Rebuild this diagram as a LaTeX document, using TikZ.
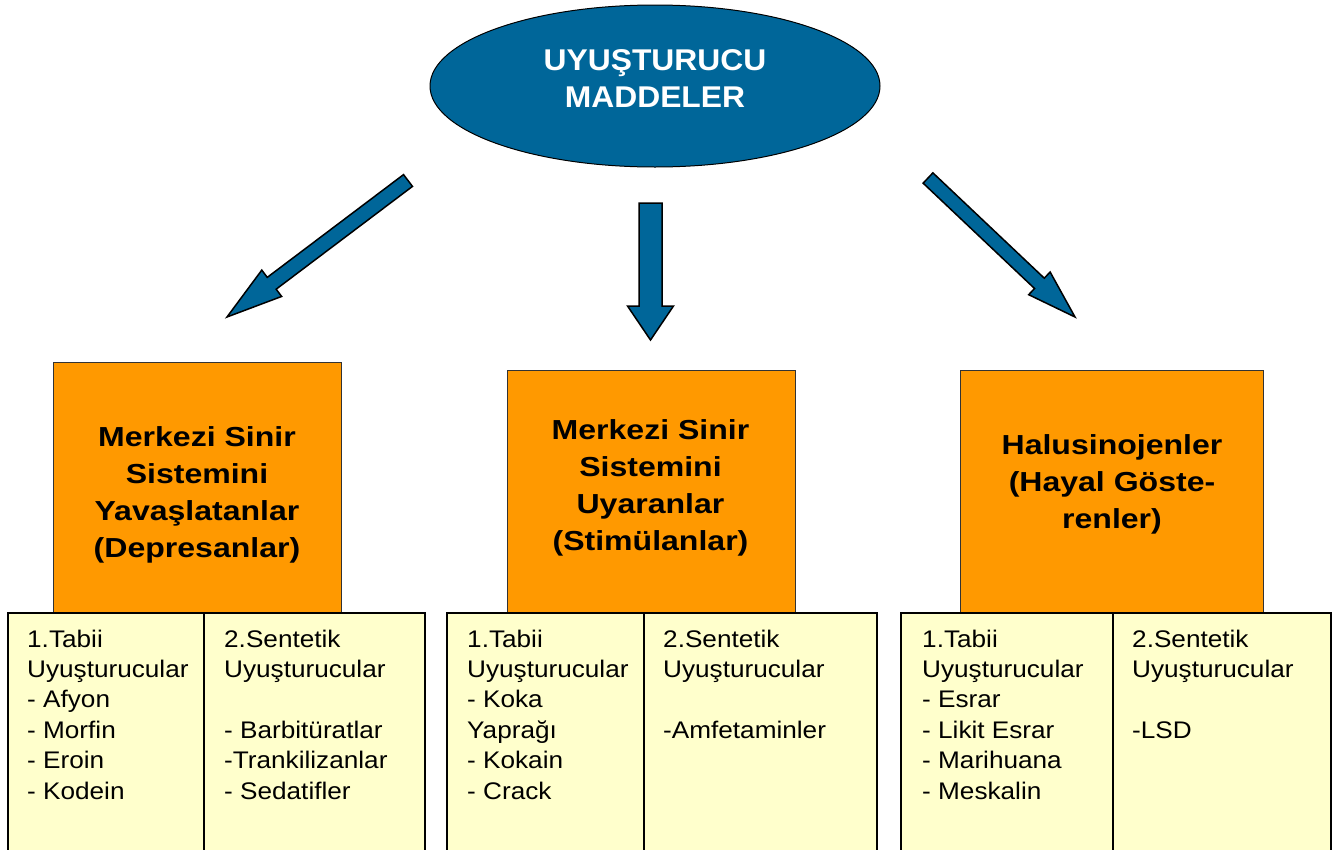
\documentclass[tikz,border=0pt]{standalone}
\usepackage{fontspec}
\setmainfont{Liberation Sans}
\newfontfamily\itemfont[FakeStretch=1.09]{Liberation Sans}
\newfontfamily\headfont[FakeStretch=1.165]{Liberation Sans}
\newfontfamily\titlefont[FakeStretch=1.06]{Liberation Sans}
\usetikzlibrary{calc,shapes.geometric}
\definecolor{ublue}{RGB}{0,102,153}
\definecolor{uorange}{RGB}{255,153,0}
\definecolor{uyellow}{RGB}{255,255,204}
\newcommand\blockarr[5]{%
  \coordinate (neck) at ($(#2)!#5!(#1)$);
  \draw[bigarrow] ($(#1)!#3!90:(#2)$) -- ($(neck)!#3!90:(#2)$) -- ($(neck)!#4!90:(#2)$) -- (#2)
    -- ($(neck)!#4!-90:(#2)$) -- ($(neck)!#3!-90:(#2)$) -- ($(#1)!#3!-90:(#2)$) -- cycle;
}
\begin{document}
\begin{tikzpicture}[x=1pt,y=-1pt,
  bigarrow/.style={fill=ublue, draw=black, line width=1.5pt, line join=miter},
  oval/.style={ellipse, fill=ublue, draw=black, line width=1pt, minimum width=450pt, minimum height=162pt, inner sep=0},
  obox/.style={draw=black!80, fill=uorange, line width=1pt, anchor=north west, inner sep=0},
  ycol/.style={draw=black, fill=uyellow, line width=2pt, anchor=north west, inner sep=0, minimum height=270pt},
  title/.style={align=center, text=white, font=\titlefont\bfseries\fontsize{30}{37.3}\selectfont, anchor=base, inner sep=0},
  head/.style={align=center, font=\headfont\bfseries\fontsize{27.5}{36.8}\selectfont, anchor=base, inner sep=0},
  item/.style={align=left, font=\itemfont\fontsize{24}{30.4}\selectfont, anchor=base west, inner sep=0},
]
\clip (0,0) rectangle (1333,849);
\fill[white] (0,0) rectangle (1333,849);

% title
\node[oval] (root) at (655,86) {};
\node[title] (roottext) at (655,107.3) {UYUŞTURUCU\\MADDELER};

% arrows
\coordinate (t1) at (408,180.5); \coordinate (h1) at (227,317);
\coordinate (t2) at (650.5,203); \coordinate (h2) at (650.5,340);
\coordinate (t3) at (928,178);   \coordinate (h3) at (1075,317);
\blockarr{t1}{h1}{7.4pt}{16.5pt}{56pt}
\blockarr{t2}{h2}{11.5pt}{23pt}{34pt}
\blockarr{t3}{h3}{7.1pt}{15.6pt}{49pt}

% orange boxes
\node[obox, minimum width=288pt, minimum height=250pt] (o1) at (53,362) {};
\node[obox, minimum width=288pt, minimum height=242pt] (o2) at (507,370) {};
\node[obox, minimum width=303pt, minimum height=242pt] (o3) at (960,370) {};

\node[head] (o1text) at (197,557) {Merkezi Sinir\\Sistemini\\Yavaşlatanlar\\(Depresanlar)};
\node[head] (o2text) at (650.5,550) {Merkezi Sinir\\Sistemini\\Uyaranlar\\(Stimülanlar)};
\node[head] (o3text) at (1112,528) {Halusinojenler\\(Hayal Göste-\\renler)};

% yellow columns
\node[ycol, minimum width=196pt] (y1a) at (7,612) {};
\node[ycol, minimum width=221pt] (y1b) at (203,612) {};
\node[ycol, minimum width=197pt] (y2a) at (446,612) {};
\node[ycol, minimum width=233pt] (y2b) at (643,612) {};
\node[ycol, minimum width=212pt] (y3a) at (900,612) {};
\node[ycol, minimum width=218pt] (y3b) at (1112,612) {};

\node[item] (y1atext) at (27,799) {1.Tabii\\Uyuşturucular\\- Afyon\\- Morfin\\- Eroin\\- Kodein};
\node[item] (y1btext) at (224,799) {2.Sentetik\\Uyuşturucular\\[30.4pt]- Barbitüratlar\\-Trankilizanlar\\- Sedatifler};
\node[item] (y2atext) at (467,799) {1.Tabii\\Uyuşturucular\\- Koka\\Yaprağı\\- Kokain\\- Crack};
\node[item] (y2btext) at (663,738.2) {2.Sentetik\\Uyuşturucular\\[30.4pt]-Amfetaminler};
\node[item] (y3atext) at (922,799) {1.Tabii\\Uyuşturucular\\- Esrar\\- Likit Esrar\\- Marihuana\\- Meskalin};
\node[item] (y3btext) at (1132,738.2) {2.Sentetik\\Uyuşturucular\\[30.4pt]-LSD};
\end{tikzpicture}
\end{document}
